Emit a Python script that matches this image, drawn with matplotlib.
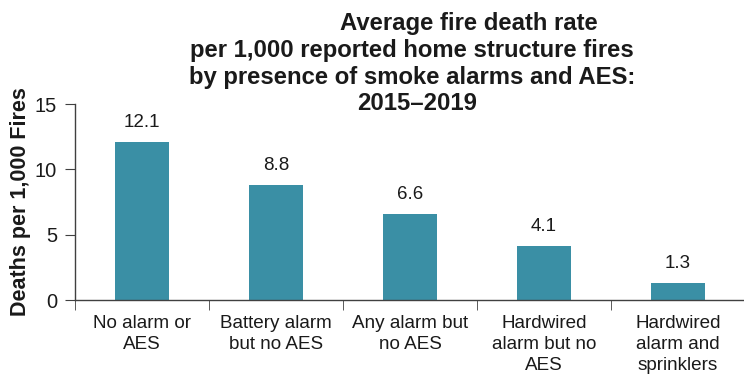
import matplotlib
matplotlib.use("Agg")
import matplotlib.pyplot as plt
import numpy as np

plt.rcParams['font.family'] = ['Liberation Sans', 'DejaVu Sans']

categories = [
    "No alarm or\nAES",
    "Battery alarm\nbut no AES",
    "Any alarm but\nno AES",
    "Hardwired\nalarm but no\nAES",
    "Hardwired\nalarm and\nsprinklers",
]
death_rates = [12.1, 8.8, 6.6, 4.1, 1.3]
y_ticks = [0, 5, 10, 15]

title_lines = [
    "Average fire death rate",
    "per 1,000 reported home structure fires",
    "by presence of smoke alarms and AES:",
    "2015\u20132019",
]
y_label = "Deaths per 1,000 Fires"

bar_color = "#3A8FA5"
text_color = "#1a1a1a"
axis_color = "#404040"

fig = plt.figure(figsize=(7.44, 3.78), dpi=100)
ax = fig.add_axes([75 / 744, 1 - 300 / 378, 670 / 744, (300 - 104) / 378])

x = np.arange(len(categories))
ax.bar(x, death_rates, width=0.4, color=bar_color, zorder=2)

for xi, v in zip(x, death_rates):
    ax.annotate(f"{v:.1f}", (xi, v), xytext=(0, 8), textcoords="offset points",
                ha="center", va="bottom", fontsize=13.5, color=text_color)

ax.set_xlim(-0.5, len(categories) - 0.5)
ax.set_ylim(0, 15)
ax.set_yticks(y_ticks)
ax.tick_params(axis="y", labelsize=14.5, direction="out", length=7,
               color=axis_color, labelcolor=text_color, pad=6)

# category labels sit between boundary tick marks
ax.set_xticks(x)
ax.set_xticklabels(categories, fontsize=13.6, color=text_color, linespacing=1.3)
ax.tick_params(axis="x", length=0, pad=11)
ax.set_xticks(np.arange(len(categories) + 1) - 0.5, minor=True)
ax.tick_params(axis="x", which="minor", length=7, direction="out", color=axis_color)

for side in ("top", "right"):
    ax.spines[side].set_visible(False)
for side in ("left", "bottom"):
    ax.spines[side].set_color(axis_color)
    ax.spines[side].set_linewidth(1.0)

ax.set_ylabel(y_label, fontsize=15.5, fontweight="bold", color=text_color, labelpad=3)

# the first title line sits right of the block's centre
title_x = [469, 412, 412, 417]
title_y = [21, 48, 75, 101]
for line, tx, ty in zip(title_lines, title_x, title_y):
    fig.text(tx / 744, 1 - ty / 378, line, ha="center", va="center_baseline",
             fontsize=17.2, fontweight="bold", color=text_color)

fig.savefig("out.png", dpi=100)
